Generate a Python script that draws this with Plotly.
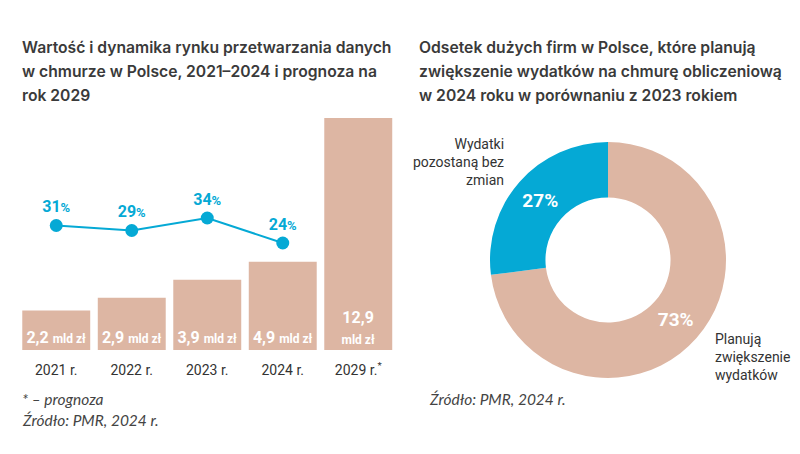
import plotly.graph_objects as go

years = ["2021 r.", "2022 r.", "2023 r.", "2024 r.", "2029 r.<sup>*</sup>"]
market_value = [2.2, 2.9, 3.9, 4.9, 12.9]
value_labels = ["2,2", "2,9", "3,9", "4,9", "12,9"]
growth_years = ["2021 r.", "2022 r.", "2023 r.", "2024 r."]
growth_pct = [31, 29, 34, 24]

donut_labels = ["Planują zwiększenie wydatków", "Wydatki pozostaną bez zmian"]
donut_values = [73, 27]

BEIGE = "#DDB6A3"
BLUE = "#05A9D5"
DARK = "#3a3a3a"
W, H = 800, 454
OFF = 8  # page body margin offset

def px_x(p):
    return (p - OFF) / W

def px_y(p):
    return 1 - (p - OFF) / H

bar_text = []
for v in value_labels:
    if len(v) > 3:
        bar_text.append(f"{v}<br><span style='font-size:12px'>mld zł</span>")
    else:
        bar_text.append(f"{v} <span style='font-size:12px'>mld zł</span>")

fig = go.Figure()
fig.add_trace(go.Bar(
    x=years, y=market_value, marker=dict(color=BEIGE, line=dict(width=0)),
    text=bar_text, textposition="inside", insidetextanchor="start",
    textangle=0, constraintext="none",
    textfont=dict(family="Roboto", size=16, color="white", weight="bold"),
    hoverinfo="skip", showlegend=False,
))
fig.add_trace(go.Scatter(
    x=growth_years, y=growth_pct, yaxis="y2", mode="lines+markers+text",
    line=dict(color=BLUE, width=2), marker=dict(color=BLUE, size=13),
    text=[f"{g}<span style='font-size:13px'>%</span>" for g in growth_pct],
    textposition="top center",
    textfont=dict(family="Roboto", size=16, color=BLUE, weight="bold"),
    hoverinfo="skip", showlegend=False, cliponaxis=False,
))
fig.add_trace(go.Pie(
    labels=donut_labels, values=donut_values, sort=False, direction="clockwise",
    hole=0.53, marker=dict(colors=[BEIGE, BLUE], line=dict(width=0)),
    textinfo="percent", textposition="inside", insidetextorientation="horizontal",
    textfont=dict(family="Roboto", size=19, color="white", weight="bold"),
    domain=dict(x=[px_x(490), px_x(726)], y=[px_y(378), px_y(142)]),
    showlegend=False, hoverinfo="skip",
))

ann = []
left_title = ["Wartość i dynamika rynku przetwarzania danych",
              "w chmurze w Polsce, 2021–2024 i prognoza na",
              "rok 2029"]
right_title = ["Odsetek dużych firm w Polsce, które planują",
               "zwiększenie wydatków na chmurę obliczeniową",
               "w 2024 roku w porównaniu z 2023 rokiem"]
for i, t in enumerate(left_title):
    ann.append(dict(text=t, x=px_x(20), y=px_y(47 + i * 24.5), xref="paper", yref="paper",
                    xanchor="left", yanchor="middle", showarrow=False,
                    font=dict(family="Inter", size=15.7, color=DARK, weight=600)))
for i, t in enumerate(right_title):
    ann.append(dict(text=t, x=px_x(417), y=px_y(47 + i * 24.5), xref="paper", yref="paper",
                    xanchor="left", yanchor="middle", showarrow=False,
                    font=dict(family="Inter", size=15.7, color=DARK, weight=600)))

foot_font = dict(family="Lato", size=15.5, color="#444", style="italic")
ann.append(dict(text="* – prognoza", x=px_x(20), y=px_y(399), xref="paper", yref="paper",
                xanchor="left", yanchor="middle", showarrow=False, font=foot_font))
ann.append(dict(text="Źródło: PMR, 2024 r.", x=px_x(20), y=px_y(420), xref="paper", yref="paper",
                xanchor="left", yanchor="middle", showarrow=False, font=foot_font))
ann.append(dict(text="Źródło: PMR, 2024 r.", x=px_x(427), y=px_y(399), xref="paper", yref="paper",
                xanchor="left", yanchor="middle", showarrow=False, font=foot_font))
ann.append(dict(text="Wydatki<br>pozostaną bez<br>zmian", x=px_x(506), y=px_y(162), xref="paper", yref="paper",
                xanchor="right", yanchor="middle", align="right", showarrow=False,
                font=dict(family="Roboto", size=14, color="#333")))
ann.append(dict(text="Planują<br>zwiększenie<br>wydatków", x=px_x(713), y=px_y(357), xref="paper", yref="paper",
                xanchor="left", yanchor="middle", align="left", showarrow=False,
                font=dict(family="Roboto", size=14, color="#333")))

fig.update_layout(
    width=W, height=H, margin=dict(l=0, r=0, t=0, b=0),
    paper_bgcolor="white", plot_bgcolor="white",
    bargap=0.1,
    xaxis=dict(domain=[px_x(18.5), px_x(396)], showgrid=False, showline=False, zeroline=False,
               ticks="", tickfont=dict(family="Roboto", size=14, color="#333"),
               ticklabelstandoff=10, fixedrange=True),
    yaxis=dict(domain=[px_y(350), px_y(110)], range=[0, 13.34], visible=False, fixedrange=True),
    yaxis2=dict(overlaying="y", range=[-18.8, 77.2], visible=False, fixedrange=True),
    annotations=ann,
)

fig.write_html("out.html")
